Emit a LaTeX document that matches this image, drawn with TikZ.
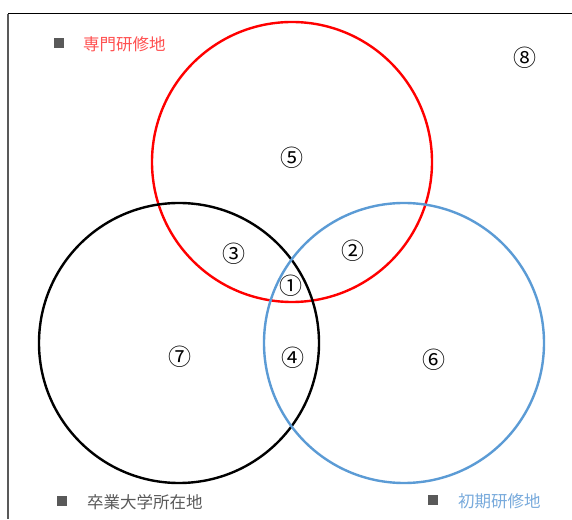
\documentclass[tikz,border=0pt]{standalone}
\usepackage{fontspec}
\newfontfamily\cjk{Noto Sans CJK JP}
\definecolor{myred}{RGB}{255,0,0}
\definecolor{myblue}{RGB}{91,155,213}
\definecolor{mygray}{RGB}{89,89,89}
\definecolor{redtext}{RGB}{255,80,80}
\definecolor{bluetext}{RGB}{120,170,220}
\tikzset{
  ring/.style={line width=2.4pt},
  num/.style={font=\cjk\fontsize{23}{23}\selectfont, inner sep=0pt},
  legtext/.style={font=\cjk\fontsize{16.5}{16.5}\selectfont, anchor=west, inner sep=0pt},
  legsq/.style={fill=mygray, minimum size=10pt, inner sep=0pt}
}
\begin{document}
\begin{tikzpicture}[x=1pt,y=1pt]
\useasboundingbox (0,0) rectangle (572,519);
\fill[white] (0,0) rectangle (572,519);
\coordinate (tl) at (8,505);
\coordinate (tr) at (572,505);
\coordinate (bl) at (8,0);
\draw[black, line width=1pt] (tl) -- (tr);
\draw[mygray, line width=1.3pt] (tl) -- (bl);
% circles
\node[ring, draw=myred, circle, minimum size=280pt] (red) at (292,357) {};
\node[ring, draw=black, circle, minimum size=280pt] (blk) at (179,176) {};
\node[ring, draw=myblue, circle, minimum size=280pt] (blu) at (404,176) {};
% numbers
\node[num] (n1) at (291,233) {①};
\node[num] (n2) at (353,268) {②};
\node[num] (n3) at (234,265) {③};
\node[num] (n4) at (293,161) {④};
\node[num] (n5) at (292,361) {⑤};
\node[num] (n6) at (434,159) {⑥};
\node[num] (n7) at (180,162) {⑦};
\node[num] (n8) at (525,461) {⑧};
% legends
\node[legsq] (s1) at (59,476) {};
\node[legtext, text=redtext] (t1) at (83,475) {専門研修地};
\node[legsq] (s2) at (62,18) {};
\node[legtext, text=mygray] (t2) at (87,17) {卒業大学所在地};
\node[legsq] (s3) at (433,19) {};
\node[legtext, text=bluetext] (t3) at (458,18) {初期研修地};
\end{tikzpicture}
\end{document}
